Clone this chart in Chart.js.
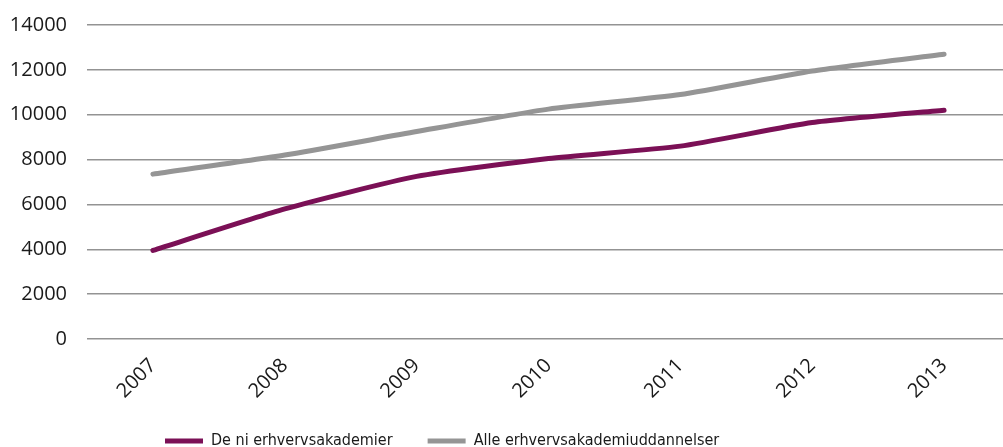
<!DOCTYPE html>
<html>
<head>
<meta charset="utf-8">
<script src="https://cdn.jsdelivr.net/npm/chart.js@4"></script>
<style>
  html, body { margin: 0; padding: 0; background: #fff; overflow: hidden; }
  #wrap { width: 1003px; height: 447px; overflow: hidden; }
  #box { width: 1010px; height: 447px; }
</style>
</head>
<body>
<div id="wrap"><div id="box"><canvas id="graf"></canvas></div></div>
<script>
const aar = ['2007', '2008', '2009', '2010', '2011', '2012', '2013'];
const deNi = [3950, 5800, 7250, 8050, 8600, 9650, 10200];
const alle = [7350, 8200, 9250, 10250, 10900, 11950, 12700];
const yTicks = [0, 2000, 4000, 6000, 8000, 10000, 12000, 14000];

Chart.defaults.font.family = '"Open Sans", sans-serif';
Chart.defaults.font.size = 20;
Chart.defaults.color = '#1a1a1a';

// legenden starter ved x=165 som i originalen
const flytLegende = {
  id: 'flytLegende',
  beforeDraw(chart) {
    const lg = chart.legend;
    const w = lg.width;
    lg.left = 165 - lg.options.labels.padding;
    lg.right = lg.left + w;
  }
};

new Chart(document.getElementById('graf'), {
  type: 'line',
  data: {
    labels: aar,
    datasets: [{
      label: 'De ni erhvervsakademier',
      data: deNi,
      borderColor: '#7b1056',
      backgroundColor: '#7b1056',
      borderWidth: 5,
      borderCapStyle: 'round',
      pointRadius: 0,
      tension: 0.2
    }, {
      label: 'Alle erhvervsakademiuddannelser',
      data: alle,
      borderColor: '#959595',
      backgroundColor: '#959595',
      borderWidth: 5,
      borderCapStyle: 'round',
      pointRadius: 0,
      tension: 0.2
    }]
  },
  options: {
    responsive: true,
    maintainAspectRatio: false,
    animation: false,
    layout: { padding: { top: 0, left: 10, bottom: -12 } },
    scales: {
      x: {
        offset: true,
        grid: { display: false },
        border: { display: false },
        ticks: { maxRotation: 45, minRotation: 45, padding: 7 },
        afterFit(axis) { axis.height = 59; }
      },
      y: {
        min: 0,
        max: 14000,
        afterBuildTicks(axis) { axis.ticks = yTicks.map(v => ({ value: v })); },
        grid: { color: '#939393', lineWidth: 1.5, drawTicks: false },
        border: { display: false },
        ticks: { padding: 20, callback: v => String(v) },
        afterFit(axis) { axis.width = 77; axis.paddingTop = 25; }
      }
    },
    plugins: {
      legend: {
        position: 'bottom',
        align: 'start',
        labels: {
          usePointStyle: true,
          pointStyle: 'line',
          pointStyleWidth: 38,
          padding: 35,
          font: { family: '"Liberation Sans Narrow", "DejaVu Sans Condensed", sans-serif', size: 16 }
        }
      },
      tooltip: { enabled: false }
    }
  },
  plugins: [flytLegende]
});
</script>
</body>
</html>
